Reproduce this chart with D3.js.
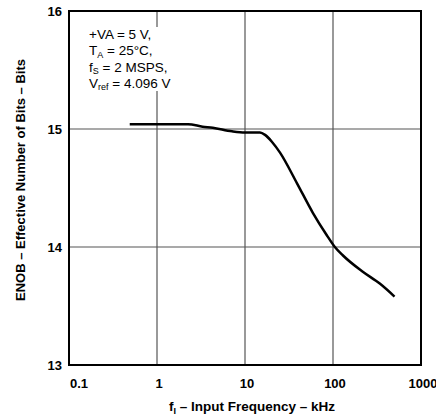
<!DOCTYPE html>
<html><head><meta charset="utf-8">
<script src="https://cdn.jsdelivr.net/npm/d3@7"></script>
<style>body{margin:0;background:#fff}svg{display:block}text{font-family:"Liberation Sans",Arial,sans-serif}</style>
</head><body>
<svg id="c" width="436" height="417"></svg>
<script>
const freqKHz = [0.49, 0.83, 1.5, 2.25, 3.3, 4.3, 7.1, 10, 14.8, 16.9, 20.3, 25, 39, 59, 85, 105, 129, 218, 340, 500];
const enob    = [15.04, 15.04, 15.04, 15.04, 15.02, 15.01, 14.98, 14.97, 14.97, 14.95, 14.89, 14.80, 14.54, 14.29, 14.10, 14.00, 13.93, 13.79, 13.69, 13.58];
const xTicks = [0.1, 1, 10, 100, 1000];
const xTickLabels = ["0.1", "1", "10", "100", "1000"];
const yTicks = [13, 14, 15, 16];

const svg = d3.select("#c");
const L = 69, R = 421, T = 11, B = 365;
const x = d3.scaleLog().domain([0.1, 1000]).range([L, R]);
const y = d3.scaleLinear().domain([13, 16]).range([B, T]);

// grid
svg.append("g").selectAll("line").data(xTicks.slice(1, -1)).join("line")
  .attr("x1", d => x(d)).attr("x2", d => x(d)).attr("y1", T).attr("y2", B)
  .attr("stroke", "#555").attr("stroke-width", 1.2);
svg.append("g").selectAll("line").data(yTicks.slice(1, -1)).join("line")
  .attr("x1", L).attr("x2", R).attr("y1", d => y(d)).attr("y2", d => y(d))
  .attr("stroke", "#555").attr("stroke-width", 1.2);

// frame
svg.append("rect").attr("x", L).attr("y", T).attr("width", R - L).attr("height", B - T)
  .attr("fill", "none").attr("stroke", "#000").attr("stroke-width", 2);

// curve
const line = d3.line().x((d, i) => x(freqKHz[i])).y(d => y(d)).curve(d3.curveMonotoneX);
svg.append("path").datum(enob).attr("d", line)
  .attr("fill", "none").attr("stroke", "#000").attr("stroke-width", 2.5).attr("stroke-linejoin", "round");

// y tick labels
svg.append("g").selectAll("text").data(yTicks).join("text")
  .attr("x", 62).attr("y", d => y(d) + 5).attr("text-anchor", "end")
  .attr("font-size", 13).attr("font-weight", "bold").text(d => d);

// x tick labels
svg.append("g").selectAll("text").data(xTicks).join("text")
  .attr("x", (d, i) => i === 0 ? x(d) + 1 : x(d) + 2).attr("y", 388)
  .attr("text-anchor", (d, i) => i === 0 ? "start" : "middle")
  .attr("font-size", 13).attr("font-weight", "bold").text((d, i) => xTickLabels[i]);

// axis titles
const xt = svg.append("text").attr("x", 252).attr("y", 411).attr("text-anchor", "middle")
  .attr("font-size", 13.5).attr("font-weight", "bold");
xt.append("tspan").text("f");
xt.append("tspan").attr("font-size", 9).attr("dy", 3).text("I");
xt.append("tspan").attr("dy", -3).text(" – Input Frequency – kHz");

svg.append("text").attr("transform", "translate(25,180) rotate(-90)").attr("text-anchor", "middle")
  .attr("font-size", 13).attr("font-weight", "bold").text("ENOB – Effective Number of Bits – Bits");

// annotation (white box hides the grid line behind it)
svg.append("rect").attr("x", 84).attr("y", 27).attr("width", 84).attr("height", 64).attr("fill", "#fff");
const ann = svg.append("g").attr("font-size", 13.5);
const a1 = ann.append("text").attr("x", 89).attr("y", 39); a1.text("+VA = 5 V,");
const a2 = ann.append("text").attr("x", 89).attr("y", 55);
a2.append("tspan").text("T"); a2.append("tspan").attr("font-size", 9).attr("dy", 2.5).text("A");
a2.append("tspan").attr("dy", -2.5).text(" = 25°C,");
const a3 = ann.append("text").attr("x", 89).attr("y", 71.5);
a3.append("tspan").text("f"); a3.append("tspan").attr("font-size", 9).attr("dy", 2.5).text("S");
a3.append("tspan").attr("dy", -2.5).text(" = 2 MSPS,");
const a4 = ann.append("text").attr("x", 89).attr("y", 87.5);
a4.append("tspan").text("V"); a4.append("tspan").attr("font-size", 9).attr("dy", 2.5).text("ref");
a4.append("tspan").attr("dy", -2.5).text("  = 4.096 V");
</script>
</body></html>
